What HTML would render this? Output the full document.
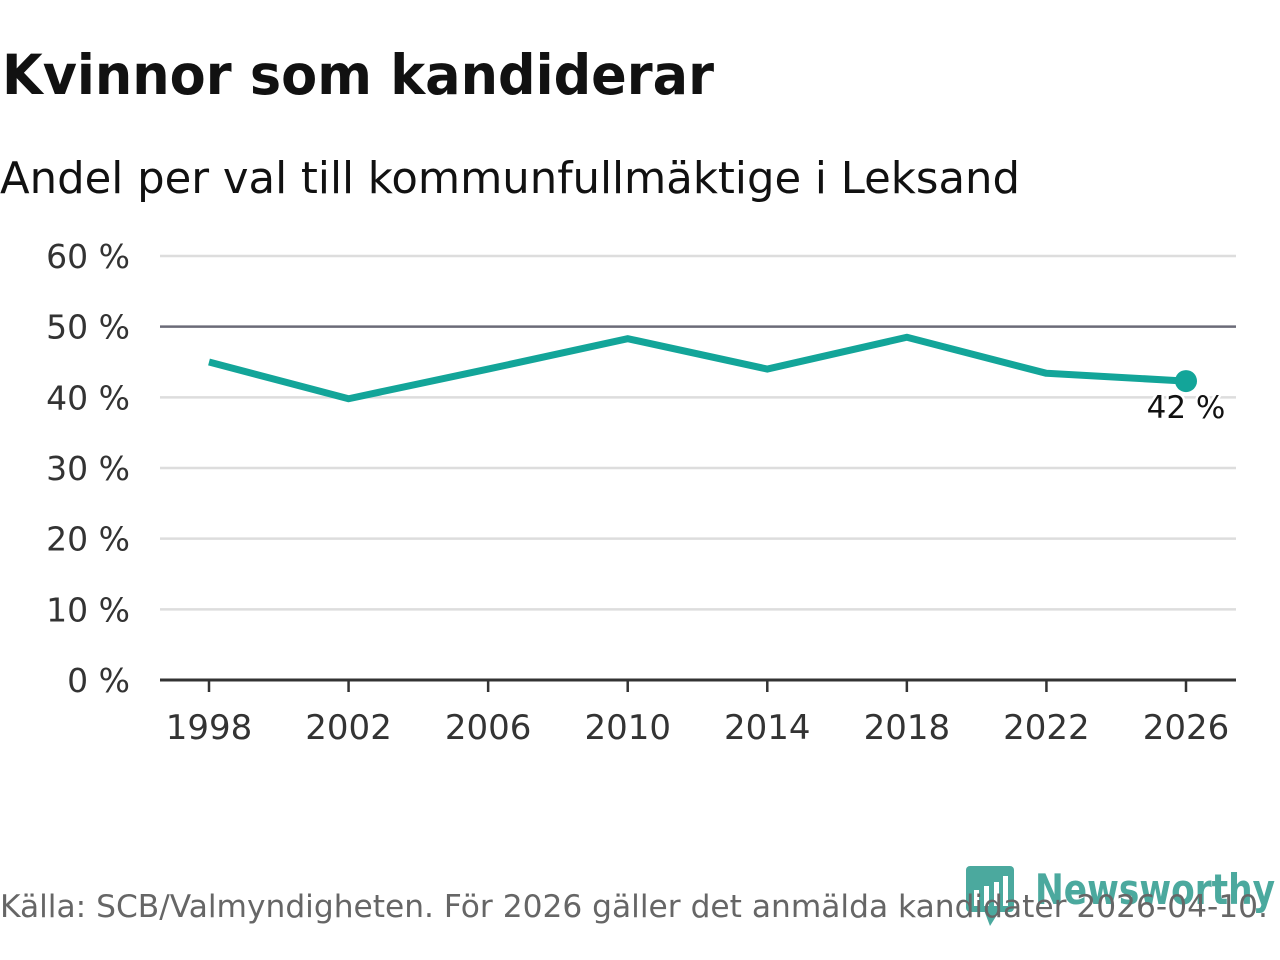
<!DOCTYPE html>
<html><head><meta charset="utf-8"><style>
html,body{margin:0;padding:0;background:#fff;width:1280px;height:960px;overflow:hidden}
svg text{font-family:"DejaVu Sans","Liberation Sans",sans-serif}
</style></head><body>
<svg id="chart" width="1280" height="960" xmlns="http://www.w3.org/2000/svg">
<text x="2" y="94" font-size="55" font-weight="bold" fill="#111" textLength="712" lengthAdjust="spacingAndGlyphs">Kvinnor som kandiderar</text>
<text x="0" y="193" font-size="44" fill="#111" textLength="1020" lengthAdjust="spacingAndGlyphs">Andel per val till kommunfullmäktige i Leksand</text>
<g id="grid"></g><g id="xaxis"></g><g id="series"></g>
<g opacity="0.8">
<rect x="966" y="866" width="48" height="46" rx="4" fill="#1f9486"/>
<polygon points="984,910 1000,910 990,926" fill="#1f9486"/>
<rect x="974" y="890" width="5" height="16" fill="#fff"/><rect x="984" y="886" width="5" height="20" fill="#fff"/><rect x="994" y="882" width="5" height="24" fill="#fff"/><rect x="1003" y="876" width="5" height="30" fill="#fff"/>
<text x="1035" y="904" font-size="42" font-weight="bold" fill="#1f9486" textLength="240" lengthAdjust="spacingAndGlyphs">Newsworthy</text>
</g>
<text x="0" y="917" font-size="31" fill="#666" textLength="1268" lengthAdjust="spacingAndGlyphs">Källa: SCB/Valmyndigheten. För 2026 gäller det anmälda kandidater 2026-04-10.</text>
</svg>
<script>
const years=[1998,2002,2006,2010,2014,2018,2022,2026];
const values=[45.0,39.8,44.0,48.3,44.0,48.5,43.4,42.3];
const yTicks=[0,10,20,30,40,50,60];
const ns="http://www.w3.org/2000/svg";
const X=y=>209+(y-1998)*(1186-209)/28;
const Y=v=>680-v*(680-256)/60;
function mk(p,t,a){const e=document.createElementNS(ns,t);for(const k in a)e.setAttribute(k,a[k]);p.appendChild(e);return e;}
const grid=document.getElementById('grid'),xa=document.getElementById('xaxis'),se=document.getElementById('series');
yTicks.forEach(v=>{
 const l=mk(grid,'line',{x1:160,x2:1236,y1:Y(v),y2:Y(v),stroke:v==50?'#6b6b78':'#ddd','stroke-width':2.5});
 
 
 const t=mk(grid,'text',{x:130,y:Y(v)+12,'text-anchor':'end','font-size':33,fill:'#333'});
 t.textContent=v+' %';
 
 
});
const ax=mk(xa,'line',{x1:160,x2:1236,y1:680,y2:680,stroke:'#333','stroke-width':3});


years.forEach(y=>{
 const tk=mk(xa,'line',{x1:X(y),x2:X(y),y1:680,y2:692,stroke:'#333','stroke-width':2.5});
 
 
 const t=mk(xa,'text',{x:X(y),y:739,'text-anchor':'middle','font-size':34,fill:'#333'});
 t.textContent=y;
 
 
});
const pl=mk(se,'polyline',{points:years.map((y,i)=>X(y)+','+Y(values[i])).join(' '),fill:'none',stroke:'#13a599','stroke-width':7,'stroke-linejoin':'round'});


const n=years.length-1;
const c=mk(se,'circle',{cx:X(years[n]),cy:Y(values[n]),r:11,fill:'#13a599'});


const lb=mk(se,'text',{x:X(years[n]),y:Y(values[n])+37,'text-anchor':'middle','font-size':31,fill:'#111',stroke:'#fff','stroke-width':5,'paint-order':'stroke'});
lb.textContent=Math.round(values[n])+' %';


</script>
</body></html>
